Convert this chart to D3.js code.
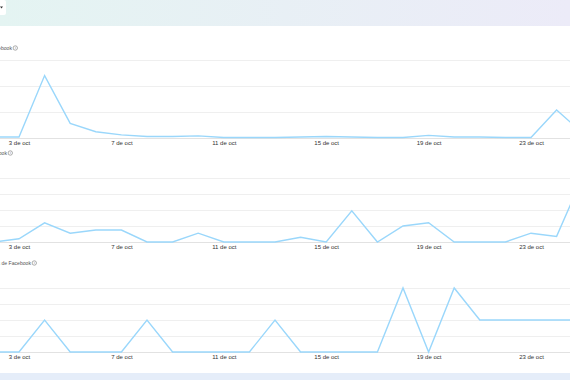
<!DOCTYPE html>
<html>
<head>
<meta charset="utf-8">
<script src="https://cdn.jsdelivr.net/npm/d3@7"></script>
<style>
  body { margin: 0; background: #fff; }
  svg { display: block; font-family: "Liberation Sans", Arial, sans-serif; }
</style>
</head>
<body>
<div id="chart"></div>
<script>
// days of october shown (the left and right ones are partly off screen)
let days = [2, 3, 4, 5, 6, 7, 8, 9, 10, 11, 12, 13, 14, 15, 16, 17, 18, 19, 20, 21, 22, 23, 24, 25];
let tickDays = [3, 7, 11, 15, 19, 23];
let tickLabels = ["3 de oct", "7 de oct", "11 de oct", "15 de oct", "19 de oct", "23 de oct"];

let reach = [2, 2, 120, 28, 12, 6, 3, 3, 4, 1, 1, 1, 2, 3, 2, 1, 1, 5, 2, 2, 1, 1, 54, 10];
let visits = [0, 0.2, 1.2, 0.55, 0.75, 0.75, 0, 0, 0.55, 0, 0, 0, 0.3, 0, 1.95, 0, 1, 1.2, 0, 0, 0, 0.55, 0.35, 4];
let followers = [0, 0, 2, 0, 0, 0, 2, 0, 0, 0, 0, 2, 0, 0, 0, 0, 4, 0, 4, 2, 2, 2, 2, 2];

let titles = ["Alcance de Facebook", "Visitas de Facebook", "Nuevos seguidores de Facebook"];
let reachTicks = [0, 50, 100, 150];
let countTicks = [0, 1, 2, 3, 4];

const W = 570, H = 380;
let svg = d3.select("#chart").append("svg")
    .attr("width", W)
    .attr("height", H);

let defs = svg.append("defs");
let grad = defs.append("linearGradient").attr("id", "head");
grad.append("stop").attr("offset", "0%").attr("stop-color", "#e4f4f2");
grad.append("stop").attr("offset", "100%").attr("stop-color", "#ecebf8");

// header band and the cut off button
svg.append("rect").attr("width", W).attr("height", 26).attr("fill", "url(#head)");
svg.append("rect").attr("x", -6).attr("y", 0).attr("width", 12).attr("height", 15)
    .attr("rx", 2).attr("fill", "#fff");
svg.append("path").attr("d", "M0,6.5 L3,6.5 L1.5,8.5 Z").attr("fill", "#333");

// footer band
svg.append("rect").attr("y", 373).attr("width", W).attr("height", 7).attr("fill", "#e5edf9");

let x = d3.scaleUtc()
    .domain([new Date(Date.UTC(2023, 9, 3)), new Date(Date.UTC(2023, 9, 23))])
    .range([19, 531]);

let panels = [
    {title: titles[0], titleEnd: 12, titleY: 48, values: reach, ticks: reachTicks, base: 138, top: 60},
    {title: titles[1], titleEnd: 7, titleY: 153, values: visits, ticks: countTicks, base: 242, top: 178},
    {title: titles[2], titleEnd: 31, titleY: 263, values: followers, ticks: countTicks, base: 352, top: 288}
];

panels.forEach(p => {
    let y = d3.scaleLinear()
        .domain([0, d3.max(p.ticks)])
        .range([p.base, p.top]);

    let g = svg.append("g");

    // title with info icon
    g.append("text")
        .attr("x", p.titleEnd)
        .attr("y", p.titleY + 1.8)
        .attr("text-anchor", "end")
        .attr("font-size", 5.1)
        .attr("fill", "#555")
        .text(p.title);
    g.append("circle")
        .attr("cx", p.titleEnd + 3.3).attr("cy", p.titleY)
        .attr("r", 2.2)
        .attr("fill", "none").attr("stroke", "#777").attr("stroke-width", 0.6);
    g.append("text")
        .attr("x", p.titleEnd + 3.3).attr("y", p.titleY + 1.4)
        .attr("text-anchor", "middle")
        .attr("font-size", 3.8).attr("fill", "#777")
        .text("i");

    // gridlines
    let grid = g.append("g")
        .attr("transform", `translate(${W},0)`)
        .call(d3.axisLeft(y).tickValues(p.ticks).tickSize(W).tickFormat(""));
    grid.select(".domain").remove();
    grid.selectAll("line")
        .attr("stroke", (d, i) => i === 0 ? "#e2e2e2" : "#efefef");

    // x labels
    let ax = g.append("g")
        .attr("transform", `translate(0,${p.base})`)
        .call(d3.axisBottom(x)
            .tickValues(tickDays.map(d => new Date(Date.UTC(2023, 9, d))))
            .tickSize(0)
            .tickPadding(3)
            .tickFormat((d, i) => tickLabels[i]));
    ax.select(".domain").remove();
    ax.selectAll("text")
        .attr("font-size", 6)
        .attr("font-family", "Liberation Sans, Arial, sans-serif")
        .attr("fill", "#333");

    let line = d3.line()
        .x((d, i) => x(new Date(Date.UTC(2023, 9, days[i]))))
        .y(d => y(d));

    g.append("path")
        .datum(p.values)
        .attr("fill", "none")
        .attr("stroke", "#9ad7fb")
        .attr("stroke-width", 1.4)
        .attr("stroke-linejoin", "miter")
        .attr("d", line);
});
</script>
</body>
</html>
